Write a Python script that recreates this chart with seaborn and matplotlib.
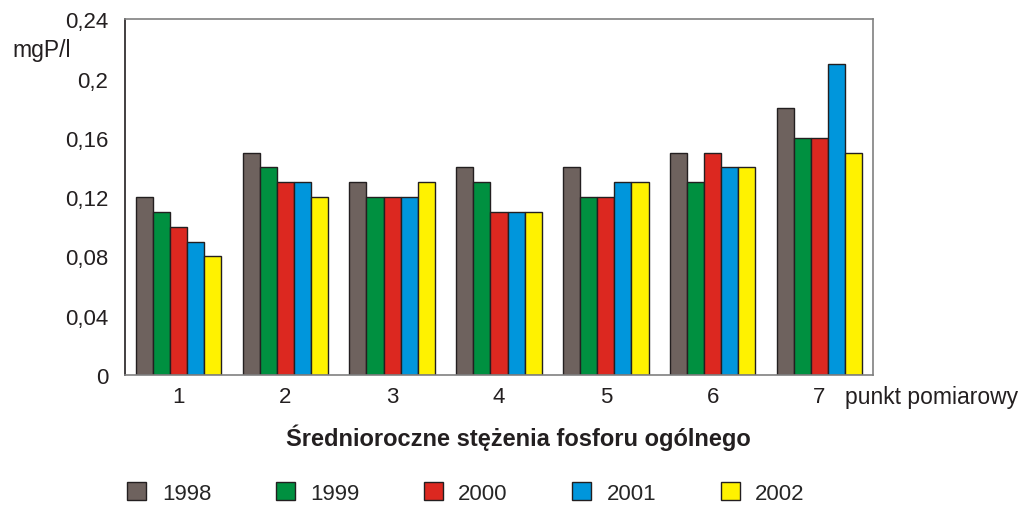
import matplotlib
matplotlib.use('Agg')
import matplotlib.pyplot as plt
from matplotlib.ticker import FuncFormatter
from matplotlib.patches import Patch
import seaborn as sns
import pandas as pd

punkty = ['1', '2', '3', '4', '5', '6', '7']
lata = ['1998', '1999', '2000', '2001', '2002']
v1998 = [0.12, 0.15, 0.13, 0.14, 0.14, 0.15, 0.18]
v1999 = [0.11, 0.14, 0.12, 0.13, 0.12, 0.13, 0.16]
v2000 = [0.10, 0.13, 0.12, 0.11, 0.12, 0.15, 0.16]
v2001 = [0.09, 0.13, 0.12, 0.11, 0.13, 0.14, 0.21]
v2002 = [0.08, 0.12, 0.13, 0.11, 0.13, 0.14, 0.15]
kolory = ['#6e625e', '#009040', '#dc2820', '#0096dc', '#fff200']

rows = []
for rok, vals in zip(lata, [v1998, v1999, v2000, v2001, v2002]):
    for p, v in zip(punkty, vals):
        rows.append({'punkt': p, 'rok': rok, 'wartosc': v})
df = pd.DataFrame(rows)

sns.set_theme(style="white")
plt.rcParams['font.family'] = ['Liberation Sans', 'DejaVu Sans']

fig = plt.figure(figsize=(10.27, 5.06), dpi=100)
ax = fig.add_axes([0.1217, 0.257, 0.7283, 0.703])
sns.barplot(data=df, x='punkt', y='wartosc', hue='rok', palette=kolory,
            width=0.8, edgecolor='#231f20', linewidth=1.0, saturation=1,
            ax=ax, legend=False)

ax.set_ylim(0, 0.24)
ax.set_yticks([0, 0.04, 0.08, 0.12, 0.16, 0.2, 0.24])
ax.yaxis.set_major_formatter(FuncFormatter(lambda v, _: f"{v:g}".replace('.', ',')))
ax.tick_params(axis='both', labelsize=16, length=0, colors='#231f20')
ax.tick_params(axis='x', pad=8)
ax.tick_params(axis='y', pad=12)
ax.set_xlabel('')
ax.set_ylabel('')
for s in ax.spines.values():
    s.set_color('#808080')
    s.set_linewidth(1.2)
ax.spines['left'].set_color('#231f20')

fig.text(12 / 1027, 1 - 51 / 506, 'mgP/l', fontsize=16.5, va='center', ha='left', color='#231f20')
fig.text(845 / 1027, 1 - 398 / 506, 'punkt pomiarowy', fontsize=16.5, va='center', ha='left', color='#231f20')
fig.text(518 / 1027, 1 - 438 / 506, 'Średnioroczne stężenia fosforu ogólnego', fontsize=17,
         fontweight='bold', va='center', ha='center', color='#231f20')

handles = [Patch(facecolor=c, edgecolor='#231f20', linewidth=1.0) for c in kolory]
fig.legend(handles, lata, loc='center', bbox_to_anchor=(466 / 1027, 1 - 494 / 506), ncol=5,
           frameon=False, fontsize=16, handlelength=0.85, handleheight=0.85,
           columnspacing=2.9, handletextpad=0.7)

plt.savefig('out.png', dpi=100)
plt.close()
